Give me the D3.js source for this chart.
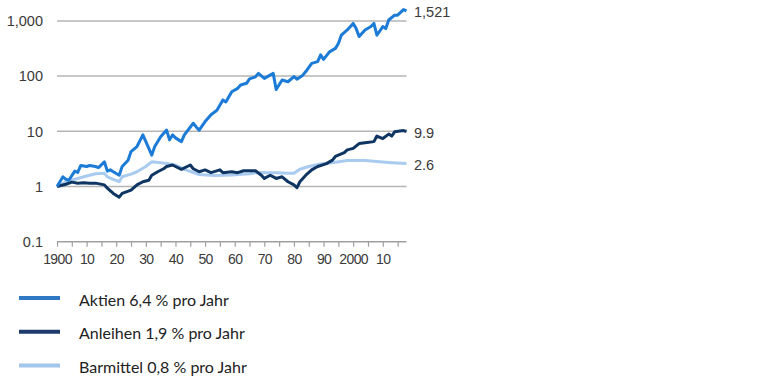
<!DOCTYPE html>
<html>
<head>
<meta charset="utf-8">
<title>Aktien, Anleihen, Barmittel</title>
<script src="https://cdnjs.cloudflare.com/ajax/libs/d3/7.8.5/d3.min.js"></script>
<style>
  body { margin: 0; background: #fff; }
  svg { display: block; }
</style>
</head>
<body>
<script>
  // values, index 1900 = 1
  var aktienYears = [1900,1902,1903,1904,1906,1907,1908,1910,1911,1913,1914,1916,1917,1918,1919,1921,1922,1924,1925,1927,1929,1930,1932,1933,1935,1937,1938,1939,1940,1942,1943,1946,1947,1948,1950,1952,1954,1956,1957,1959,1961,1962,1964,1965,1967,1968,1970,1973,1974,1976,1978,1980,1981,1983,1984,1986,1988,1989,1990,1992,1994,1995,1996,1998,2000,2001,2002,2004,2006,2007,2008,2010,2011,2012,2014,2015,2017,2018];
  var aktienValues = [1.0,1.5,1.35,1.3,1.9,1.8,2.4,2.3,2.4,2.3,2.2,2.8,1.9,2.0,1.85,1.6,2.3,3.0,4.3,5.3,8.6,6.5,3.7,5.3,8,10.5,7,8.6,7.6,6.5,8.6,14,12,10.5,15,20,24,37,34,52,60,69,74,89,97,112,91,112,57,85,79,98,88,104,121,170,183,242,201,275,318,390,550,685,900,725,520,685,790,900,550,790,725,1040,1270,1270,1600,1521];

  var anleihenYears = [1900,1903,1905,1907,1909,1911,1913,1916,1917,1919,1921,1922,1925,1927,1929,1931,1932,1934,1936,1937,1939,1942,1945,1946,1948,1950,1952,1955,1956,1959,1961,1963,1967,1969,1970,1972,1974,1976,1978,1980,1981,1982,1984,1986,1988,1991,1993,1994,1997,1998,2000,2002,2004,2007,2008,2010,2012,2013,2014,2017,2018];
  var anleihenValues = [1.0,1.1,1.2,1.15,1.17,1.15,1.15,1.07,0.93,0.75,0.64,0.75,0.86,1.07,1.22,1.3,1.6,1.85,2.1,2.3,2.45,2.05,2.45,2.1,1.85,2.0,1.78,2.0,1.78,1.85,1.78,1.93,1.93,1.6,1.4,1.6,1.4,1.5,1.22,1.07,0.95,1.22,1.6,2.0,2.3,2.6,3.0,3.5,4.1,4.6,4.9,6.0,6.2,6.5,8.2,7.4,8.9,8.2,9.8,10.3,9.9];

  var barYears = [1900,1903,1907,1909,1911,1913,1916,1917,1919,1921,1922,1925,1927,1930,1932,1935,1937,1940,1943,1948,1953,1959,1965,1968,1974,1978,1980,1982,1985,1989,1994,1998,2004,2009,2013,2018];
  var barValues = [1.0,1.22,1.4,1.5,1.6,1.7,1.73,1.5,1.35,1.22,1.5,1.68,1.85,2.3,2.8,2.7,2.6,2.45,2.05,1.65,1.58,1.62,1.7,1.8,1.78,1.73,1.73,2.05,2.3,2.55,2.75,2.95,2.95,2.8,2.7,2.6];

  var yTicks = [0.1, 1, 10, 100, 1000];
  var yTickLabels = ["0.1", "1", "10", "100", "1,000"];
  var xTicks = d3.range(1900, 2016, 5);
  var xTickLabels = {1900:"1900",1910:"10",1920:"20",1930:"30",1940:"40",1950:"50",1960:"60",1970:"70",1980:"80",1990:"90",2000:"2000",2010:"10"};

  var seriesNames = ["Barmittel", "Anleihen", "Aktien"];
  var endLabels = ["2.6", "9.9", "1,521"];
  var legendLabels = ["Aktien 6,4 % pro Jahr", "Anleihen 1,9 % pro Jahr", "Barmittel 0,8 % pro Jahr"];

  var colors = { Aktien: "#1b7bd6", Anleihen: "#0f3563", Barmittel: "#a9cbef" };
  var legendColors = ["#2f78c4", "#1c3a6c", "#a3c6ec"];

  var series = [
    { name: "Barmittel", years: barYears, values: barValues, label: endLabels[0] },
    { name: "Anleihen", years: anleihenYears, values: anleihenValues, label: endLabels[1] },
    { name: "Aktien", years: aktienYears, values: aktienValues, label: endLabels[2] }
  ];

  var width = 768, height = 384;
  var svg = d3.select("body").append("svg")
      .attr("width", width)
      .attr("height", height);

  var x = d3.scaleLinear().domain([1900, 2018]).range([57, 406.5]);
  var y = d3.scaleLog().domain([0.1, 1000]).range([241.7, 20.9]);

  // gridlines
  svg.append("g").selectAll("line")
      .data(yTicks.filter(function(d) { return d >= 1; }))
      .enter().append("line")
      .attr("x1", x(1900)).attr("x2", x(2018))
      .attr("y1", function(d) { return y(d); })
      .attr("y2", function(d) { return y(d); })
      .attr("stroke", "#b5b5b5")
      .attr("stroke-width", 1.5);

  // y labels
  svg.append("g").selectAll("text")
      .data(yTicks)
      .enter().append("text")
      .attr("x", 43)
      .attr("y", function(d) { return y(d); })
      .attr("dy", "0.36em")
      .attr("text-anchor", "end")
      .attr("font-family", "Liberation Sans, Arial, sans-serif")
      .attr("font-size", "14.5px")
      .attr("fill", "#3a3a3a")
      .text(function(d, i) { return yTickLabels[i]; });

  // x axis
  var xAxis = d3.axisBottom(x)
      .tickValues(xTicks)
      .tickSize(5)
      .tickFormat(function(d) { return xTickLabels[d] || ""; });

  var gx = svg.append("g")
      .attr("transform", "translate(0," + y(0.1) + ")")
      .call(xAxis);
  gx.select(".domain").attr("stroke", "#a0a0a0").attr("stroke-width", 1.5)
      .attr("d", "M" + x(1900) + ",0H" + x(2018));
  gx.selectAll(".tick line").attr("stroke", "#a0a0a0").attr("stroke-width", 1.2);
  gx.selectAll(".tick text")
      .attr("y", 12)
      .attr("font-family", "Liberation Sans, Arial, sans-serif")
      .attr("font-size", "14px")
      .attr("letter-spacing", "-0.6px")
      .attr("fill", "#3a3a3a");

  // lines
  var line = d3.line()
      .x(function(d) { return x(d[0]); })
      .y(function(d) { return y(d[1]); });

  series.forEach(function(s) {
    var pts = s.years.map(function(yr, i) { return [yr, s.values[i]]; });
    svg.append("path")
        .datum(pts)
        .attr("fill", "none")
        .attr("stroke", colors[s.name])
        .attr("stroke-width", 3)
        .attr("stroke-linejoin", "round")
        .attr("d", line);

    var last = pts[pts.length - 1];
    svg.append("text")
        .attr("x", 414)
        .attr("y", y(last[1]) + 1)
        .attr("dy", "0.36em")
        .attr("font-family", "Liberation Sans, Arial, sans-serif")
        .attr("font-size", "14.5px")
        .attr("fill", "#3a3a3a")
        .text(s.label);
  });

  // legend
  var legend = svg.append("g").selectAll("g")
      .data(legendLabels)
      .enter().append("g")
      .attr("transform", function(d, i) { return "translate(0," + (298 + i * 33.7) + ")"; });

  legend.append("line")
      .attr("x1", 19).attr("x2", 60)
      .attr("stroke", function(d, i) { return legendColors[i]; })
      .attr("stroke-width", 4);

  legend.append("text")
      .attr("x", 79)
      .attr("y", 7.5)
      .attr("font-family", "Lato, sans-serif")
      .attr("font-size", "16px")
      .attr("fill", "#222")
      .text(function(d) { return d; });
</script>
</body>
</html>
